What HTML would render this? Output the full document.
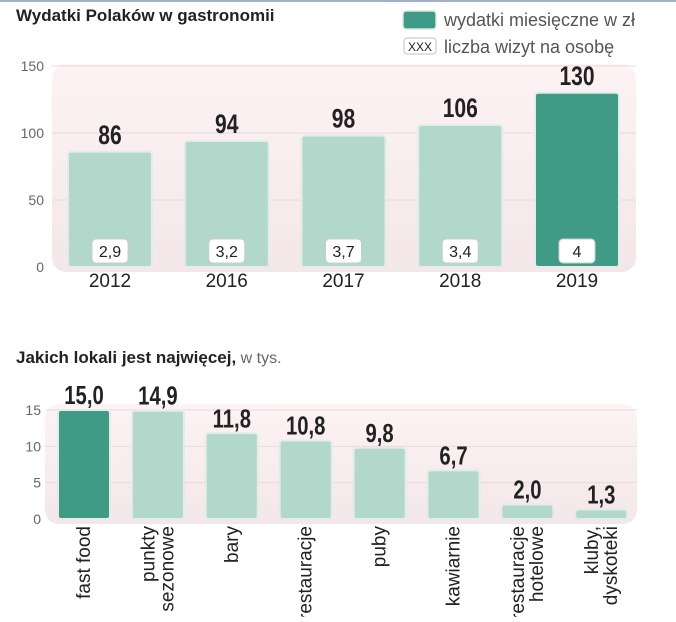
<!DOCTYPE html>
<html><head><meta charset="utf-8">
<style>
html,body{margin:0;padding:0;background:#fff;}
body{width:676px;height:617px;overflow:hidden;position:relative;font-family:"Liberation Sans Narrow","Liberation Sans",sans-serif;}
svg text{font-family:"Liberation Sans Narrow","Liberation Sans",sans-serif;}
</style></head>
<body>
<svg id="c" width="676" height="617" viewBox="0 0 676 617" xmlns="http://www.w3.org/2000/svg">
<defs>
<linearGradient id="bg" x1="0" y1="0" x2="0" y2="1">
<stop offset="0" stop-color="#fdf3f4"/><stop offset="1" stop-color="#f3e7e9"/>
</linearGradient>
</defs>
<rect x="0" y="0" width="676" height="2" fill="#9fb0c8"/>
<text x="16" y="21" font-size="17" font-weight="bold" fill="#222">Wydatki Polaków w gastronomii</text>
<g>
<rect x="403" y="11" width="33" height="18" rx="3" fill="#3f9b86" stroke="#d9e6e1" stroke-width="1.5"/>
<text x="444" y="26" font-size="18" fill="#555">wydatki miesięczne w zł</text>
<rect x="404" y="38" width="32" height="16" rx="3" fill="#fff" stroke="#ccc" stroke-width="1.2"/>
<text x="420" y="51" font-size="12" fill="#222" text-anchor="middle">XXX</text>
<text x="444" y="53" font-size="18" fill="#555">liczba wizyt na osobę</text>
</g>
<text x="16" y="363" font-size="17" fill="#222"><tspan font-weight="bold">Jakich lokali jest najwięcej,</tspan><tspan fill="#666" font-size="16"> w tys.</tspan></text>
<g id="g1"></g>
<g id="g2"></g>
</svg>
<script>
const years = ["2012","2016","2017","2018","2019"];
const spending = [86, 94, 98, 106, 130];
const spendingLabels = ["86","94","98","106","130"];
const visitsLabels = ["2,9","3,2","3,7","3,4","4"];
const ticks1 = [0, 50, 100, 150];

const venues = [["fast food"],["punkty","sezonowe"],["bary"],["restauracje"],["puby"],["kawiarnie"],["restauracje","hotelowe"],["kluby,","dyskoteki"]];
const counts = [15.0, 14.9, 11.8, 10.8, 9.8, 6.7, 2.0, 1.3];
const countLabels = ["15,0","14,9","11,8","10,8","9,8","6,7","2,0","1,3"];
const ticks2 = [0, 5, 10, 15];

const NS = "http://www.w3.org/2000/svg";
function mk(parent, tag, attrs, text){
  const e = document.createElementNS(NS, tag);
  for (const k in attrs) e.setAttribute(k, attrs[k]);
  if (text !== undefined) e.textContent = text;
  parent.appendChild(e);
  return e;
}
const DARK="#3f9b86", LIGHT="#b2d7cb", EDGE="#e3ece8";

// Chart 1
(function(){
  const g = document.getElementById('g1');
  const y0 = 267, pxPer = 201/150;
  const yS = v => y0 - v*pxPer;
  const xStart = 68, step = 116.75, bw = 84;
  const xS = i => xStart + i*step;
  const bg = mk(g,'rect',{x:52,y:64,width:584,height:208,rx:14,fill:'url(#bg)'});
  
  
  ticks1.forEach(t=>{
    if (t>0){
      const l = mk(g,'line',{x1:52,x2:636,y1:yS(t),y2:yS(t),stroke:'#ead9dc','stroke-width':1});
      
      
    }
    const tx = mk(g,'text',{x:44,y:yS(t)+5,'font-size':14,fill:'#666','text-anchor':'end'},String(t));
    
    
  });
  years.forEach((yr,i)=>{
    const v = spending[i], x = xS(i), last = i===years.length-1;
    const b = mk(g,'rect',{x:x,y:yS(v),width:bw,height:y0-yS(v),rx:3,fill:last?DARK:LIGHT,stroke:EDGE,'stroke-width':2});
    
    
    const vl = mk(g,'text',{x:0,y:0,'font-size':27,'font-weight':'bold',fill:'#222','text-anchor':'middle',transform:'translate('+(x+bw/2)+','+(yS(v)-8)+') scale(0.78,1)'},spendingLabels[i]);
    
    
    const bx = mk(g,'rect',{x:x+bw/2-18,y:y0-28,width:36,height:24,rx:4,fill:'#fff',stroke:'#ccc','stroke-width':1});
    
    
    const vt = mk(g,'text',{x:x+bw/2,y:y0-10,'font-size':16,fill:'#222','text-anchor':'middle'},visitsLabels[i]);
    
    
    const xl = mk(g,'text',{x:x+bw/2,y:287,'font-size':19,fill:'#222','text-anchor':'middle'},yr);
    
    
  });
})();

// Chart 2
(function(){
  const g = document.getElementById('g2');
  const y0 = 519, pxPer = 109/15;
  const yS = v => y0 - v*pxPer;
  const xStart = 58, step = 73.9, bw = 52;
  const xS = i => xStart + i*step;
  const bg = mk(g,'rect',{x:45,y:404,width:592,height:120,rx:14,fill:'url(#bg)'});
  
  
  ticks2.forEach(t=>{
    if (t>0){
      const l = mk(g,'line',{x1:45,x2:637,y1:yS(t),y2:yS(t),stroke:'#ead9dc','stroke-width':1});
      
      
    }
    const tx = mk(g,'text',{x:41,y:yS(t)+5,'font-size':14,fill:'#666','text-anchor':'end'},String(t));
    
    
  });
  venues.forEach((lines,i)=>{
    const v = counts[i], x = xS(i), cx = x+bw/2;
    const b = mk(g,'rect',{x:x,y:yS(v),width:bw,height:y0-yS(v),rx:3,fill:i===0?DARK:LIGHT,stroke:EDGE,'stroke-width':2});
    
    
    const vl = mk(g,'text',{x:0,y:0,'font-size':26,'font-weight':'bold',fill:'#222','text-anchor':'middle',transform:'translate('+cx+','+(yS(v)-6)+') scale(0.78,1)'},countLabels[i]);
    
    
    const n = lines.length, lh = 19;
    lines.forEach((ln,j)=>{
      const off = (j-(n-1)/2)*lh + 6;
      const t = mk(g,'text',{x:0,y:0,'font-size':19,fill:'#222','text-anchor':'end',transform:'translate('+(cx+off)+',526) rotate(-90)'},ln);
      
      
    });
  });
})();
</script>
</body></html>
